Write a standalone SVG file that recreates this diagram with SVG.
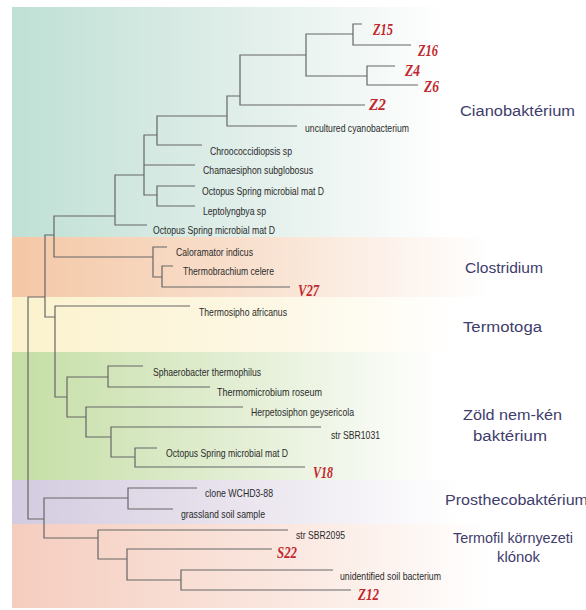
<svg xmlns="http://www.w3.org/2000/svg" width="586" height="610" viewBox="0 0 586 610">
<style>
.lbl{font-family:"Liberation Sans",Arial,sans-serif;font-size:11px;fill:#2b2b2b;}
.red{font-family:"Liberation Serif","Times New Roman",serif;font-size:17px;font-weight:bold;font-style:italic;fill:#c1272d;}
.grp{font-family:"Liberation Sans",Arial,sans-serif;font-size:15.5px;fill:#403d6c;}
.br{fill:none;stroke:#666;stroke-width:1.2;}
</style>
<defs>
<linearGradient id="gCyan" gradientUnits="userSpaceOnUse" x1="12" y1="0" x2="450" y2="0"><stop offset="0" stop-color="#bfe0d5"/><stop offset="0.55" stop-color="#e2efea"/><stop offset="1" stop-color="#ffffff"/></linearGradient>
<linearGradient id="gPeach" gradientUnits="userSpaceOnUse" x1="12" y1="0" x2="490" y2="0"><stop offset="0" stop-color="#f4c7a5"/><stop offset="0.55" stop-color="#f9e3d3"/><stop offset="1" stop-color="#ffffff"/></linearGradient>
<linearGradient id="gYellow" gradientUnits="userSpaceOnUse" x1="12" y1="0" x2="460" y2="0"><stop offset="0" stop-color="#fbf2cd"/><stop offset="0.6" stop-color="#fdf8e6"/><stop offset="1" stop-color="#ffffff"/></linearGradient>
<linearGradient id="gGreen" gradientUnits="userSpaceOnUse" x1="12" y1="0" x2="440" y2="0"><stop offset="0" stop-color="#c4dea4"/><stop offset="0.55" stop-color="#e4efd6"/><stop offset="1" stop-color="#ffffff"/></linearGradient>
<linearGradient id="gLav" gradientUnits="userSpaceOnUse" x1="12" y1="0" x2="460" y2="0"><stop offset="0" stop-color="#d3cbe0"/><stop offset="0.55" stop-color="#ebe6ef"/><stop offset="1" stop-color="#ffffff"/></linearGradient>
<linearGradient id="gSalmon" gradientUnits="userSpaceOnUse" x1="12" y1="0" x2="490" y2="0"><stop offset="0" stop-color="#f5cdbf"/><stop offset="0.55" stop-color="#fae6de"/><stop offset="1" stop-color="#ffffff"/></linearGradient>
</defs>
<rect width="586" height="610" fill="#ffffff"/>
<g id="bands">
<rect x="12" y="7" width="574" height="230" fill="url(#gCyan)"/>
<rect x="12" y="237" width="574" height="60" fill="url(#gPeach)"/>
<rect x="12" y="297" width="574" height="55" fill="url(#gYellow)"/>
<rect x="12" y="352" width="574" height="128" fill="url(#gGreen)"/>
<rect x="12" y="480" width="574" height="44" fill="url(#gLav)"/>
<rect x="12" y="524" width="574" height="84" fill="url(#gSalmon)"/>
</g>
<g id="connectors" class="br">
<path d="M45,297 H28 V519 H44"/>
<path d="M54,235 H45 V317 H55"/>
<path d="M115,216 H54 V257 H153"/>
<path d="M144,175 H115 V225 H147"/>
<path d="M157,135 H144 V195 H157 M144,165 H195"/>
<path d="M227,116 H157 V145 H202"/>
<path d="M240,96 H227 V126 H297"/>
<path d="M306,55 H240 V105 H365"/>
<path d="M353,34 H306 V76 H367"/>
<path d="M362,24 H353 V45 H411"/>
<path d="M395,66 H367 V85 H418"/>
<path d="M195,186 H157 V206 H195"/>
<path d="M167,247 H153 V277 H162"/>
<path d="M173,266 H162 V287 H290"/>
<path d="M190,306 H55 V397 H67"/>
<path d="M108,377 H67 V417 H86"/>
<path d="M143,366 H108 V387 H210"/>
<path d="M243,407 H86 V437 H111"/>
<path d="M321,427 H111 V457 H135"/>
<path d="M157,448 H135 V467 H305"/>
<path d="M128,498 H44 V538 H98"/>
<path d="M197,488 H128 V509 H173"/>
<path d="M288,530 H98 V559 H127"/>
<path d="M272,549 H127 V580 H181"/>
<path d="M333,570 H181 V590 H351"/>
</g>
<g id="leaf-Z15"><text class="red" x="373" y="35" textLength="20" lengthAdjust="spacingAndGlyphs">Z15</text></g>
<g id="leaf-Z16"><text class="red" x="418" y="56" textLength="20" lengthAdjust="spacingAndGlyphs">Z16</text></g>
<g id="leaf-Z4"><text class="red" x="405" y="76" textLength="15" lengthAdjust="spacingAndGlyphs">Z4</text></g>
<g id="leaf-Z6"><text class="red" x="424" y="92" textLength="15" lengthAdjust="spacingAndGlyphs">Z6</text></g>
<g id="leaf-Z2"><text class="red" x="369" y="110" textLength="17" lengthAdjust="spacingAndGlyphs">Z2</text></g>
<g id="leaf-uncultured"><text class="lbl" x="305" y="132" textLength="104" lengthAdjust="spacingAndGlyphs">uncultured cyanobacterium</text></g>
<g id="leaf-chroococcidiopsis"><text class="lbl" x="210" y="155" textLength="82" lengthAdjust="spacingAndGlyphs">Chroococcidiopsis sp</text></g>
<g id="leaf-chamaesiphon"><text class="lbl" x="203" y="174" textLength="110" lengthAdjust="spacingAndGlyphs">Chamaesiphon subglobosus</text></g>
<g id="leaf-octopus1"><text class="lbl" x="202" y="195" textLength="122" lengthAdjust="spacingAndGlyphs">Octopus Spring microbial mat D</text></g>
<g id="leaf-leptolyngbya"><text class="lbl" x="203" y="215" textLength="63" lengthAdjust="spacingAndGlyphs">Leptolyngbya sp</text></g>
<g id="leaf-octopus2"><text class="lbl" x="153" y="234" textLength="122" lengthAdjust="spacingAndGlyphs">Octopus Spring microbial mat D</text></g>
<g id="leaf-caloramator"><text class="lbl" x="176" y="256" textLength="77" lengthAdjust="spacingAndGlyphs">Caloramator indicus</text></g>
<g id="leaf-thermobrachium"><text class="lbl" x="183" y="275" textLength="91" lengthAdjust="spacingAndGlyphs">Thermobrachium celere</text></g>
<g id="leaf-V27"><text class="red" x="298" y="296" textLength="21" lengthAdjust="spacingAndGlyphs">V27</text></g>
<g id="leaf-thermosipho"><text class="lbl" x="199" y="316" textLength="88" lengthAdjust="spacingAndGlyphs">Thermosipho africanus</text></g>
<g id="leaf-sphaerobacter"><text class="lbl" x="153" y="376" textLength="108" lengthAdjust="spacingAndGlyphs">Sphaerobacter thermophilus</text></g>
<g id="leaf-thermomicrobium"><text class="lbl" x="217" y="396" textLength="105" lengthAdjust="spacingAndGlyphs">Thermomicrobium roseum</text></g>
<g id="leaf-herpetosiphon"><text class="lbl" x="251" y="416" textLength="103" lengthAdjust="spacingAndGlyphs">Herpetosiphon geysericola</text></g>
<g id="leaf-sbr1031"><text class="lbl" x="331" y="439" textLength="49" lengthAdjust="spacingAndGlyphs">str SBR1031</text></g>
<g id="leaf-octopus3"><text class="lbl" x="166" y="457" textLength="122" lengthAdjust="spacingAndGlyphs">Octopus Spring microbial mat D</text></g>
<g id="leaf-V18"><text class="red" x="313" y="478" textLength="20" lengthAdjust="spacingAndGlyphs">V18</text></g>
<g id="leaf-clone"><text class="lbl" x="205" y="497" textLength="68" lengthAdjust="spacingAndGlyphs">clone WCHD3-88</text></g>
<g id="leaf-grassland"><text class="lbl" x="181" y="518" textLength="84" lengthAdjust="spacingAndGlyphs">grassland soil sample</text></g>
<g id="leaf-sbr2095"><text class="lbl" x="296" y="539" textLength="49" lengthAdjust="spacingAndGlyphs">str SBR2095</text></g>
<g id="leaf-S22"><text class="red" x="277" y="558" textLength="20" lengthAdjust="spacingAndGlyphs">S22</text></g>
<g id="leaf-unidentified"><text class="lbl" x="340" y="580" textLength="101" lengthAdjust="spacingAndGlyphs">unidentified soil bacterium</text></g>
<g id="leaf-Z12"><text class="red" x="358" y="600" textLength="21" lengthAdjust="spacingAndGlyphs">Z12</text></g>
<g id="group-cianobakterium"><text class="grp" x="517.5" y="116" text-anchor="middle" textLength="115" lengthAdjust="spacingAndGlyphs">Cianobaktérium</text></g>
<g id="group-clostridium"><text class="grp" x="504" y="273" text-anchor="middle" textLength="78" lengthAdjust="spacingAndGlyphs">Clostridium</text></g>
<g id="group-termotoga"><text class="grp" x="502.5" y="332" text-anchor="middle" textLength="79" lengthAdjust="spacingAndGlyphs">Termotoga</text></g>
<g id="group-zold"><text class="grp" x="512.5" y="420" text-anchor="middle" textLength="99" lengthAdjust="spacingAndGlyphs">Zöld nem-kén</text><text class="grp" x="510" y="441" text-anchor="middle" textLength="74" lengthAdjust="spacingAndGlyphs">baktérium</text></g>
<g id="group-prostheco"><text class="grp" x="445" y="505" textLength="143" lengthAdjust="spacingAndGlyphs">Prosthecobaktérium</text></g>
<g id="group-termofil"><text class="grp" x="513" y="543" text-anchor="middle" textLength="120" lengthAdjust="spacingAndGlyphs">Termofil környezeti</text><text class="grp" x="518.5" y="562" text-anchor="middle" textLength="43" lengthAdjust="spacingAndGlyphs">klónok</text></g>
</svg>
